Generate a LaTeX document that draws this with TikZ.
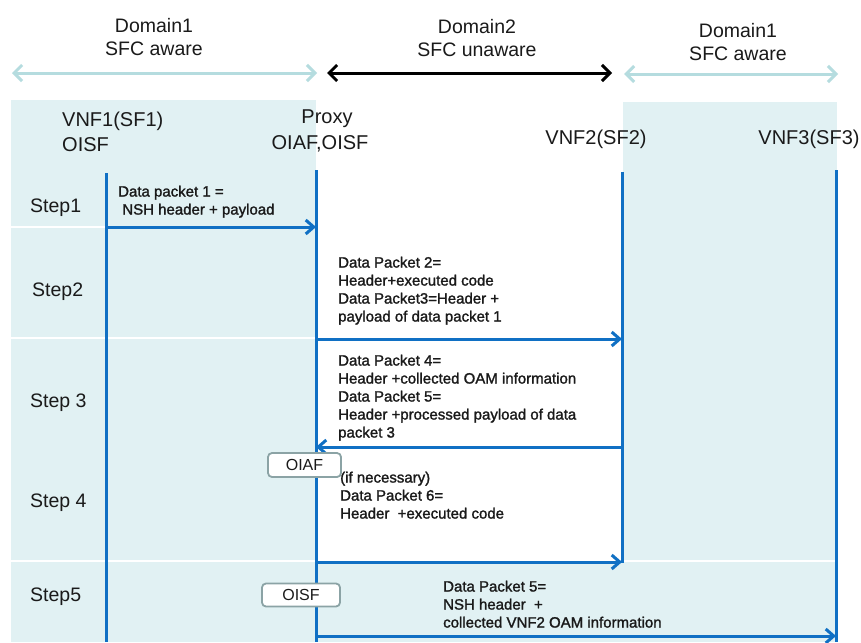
\documentclass[tikz,border=0pt]{standalone}
\usepackage{fontspec}
\setmainfont{Liberation Sans}
\newfontfamily\msgfont[FakeBold=1.5]{Liberation Sans}
\usetikzlibrary{arrows.meta}
\definecolor{panel}{HTML}{E1F1F3}
\definecolor{life}{HTML}{1070C4}
\definecolor{domlight}{HTML}{B5DCDF}
\definecolor{boxedge}{HTML}{8BA3A5}
\definecolor{txt}{HTML}{1A1A1A}
\begin{document}
\begin{tikzpicture}[x=1pt,y=-1pt,
  bigtxt/.style={font=\fontsize{19.5}{23}\selectfont, inner sep=0pt, text=txt},
  msg/.style={font=\msgfont\fontsize{15}{18}\selectfont, inner sep=0pt, align=left, anchor=north west, text=txt},
  lifeline/.style={draw=life, line width=3pt},
  msgarrow/.style={draw=life, line width=3pt, -{Straight Barb[length=8pt,width=14pt]}},
  domarrow/.style={line width=3pt, {Straight Barb[length=8pt,width=16pt]}-{Straight Barb[length=8pt,width=16pt]}},
  tag/.style={draw=boxedge, line width=1.8pt, fill=white, rounded corners=4pt,
    font=\fontsize{16}{19}\selectfont, text=txt, inner sep=0pt}
]
\useasboundingbox (0,0) rectangle (861,642);
\fill[white] (0,0) rectangle (861,642);

% shaded SFC-aware areas
\fill[panel] (11,100) rectangle (316,642);
\fill[panel] (623,102) rectangle (837,642);
\fill[panel] (11,562) rectangle (837,642);
% row separators
\draw[white, line width=1.5pt] (11,227) -- (316,227);
\draw[white, line width=1.5pt] (11,338) -- (316,338);
\draw[white, line width=1.5pt] (11,561) -- (837,561);

% domain ranges
\coordinate (dl1) at (12,73);  \coordinate (dl2) at (317,73);
\coordinate (dm1) at (327,73); \coordinate (dm2) at (612,73);
\coordinate (dr1) at (624,74); \coordinate (dr2) at (838,74);
\draw[domarrow, domlight] (dl1) -- (dl2);
\draw[domarrow, black] (dm1) -- (dm2);
\draw[domarrow, domlight] (dr1) -- (dr2);

\node[bigtxt, align=center] (dom1) at (154,37) {Domain1\\SFC aware};
\node[bigtxt, align=center] (dom2) at (477,38.5) {Domain2\\SFC unaware};
\node[bigtxt, align=center] (dom3) at (738,42) {Domain1\\SFC aware};

% participants
\node[bigtxt, align=left, anchor=west, font=\fontsize{20}{25}\selectfont] (vnf1) at (62,132) {VNF1(SF1)\\OISF};
\node[bigtxt, font=\fontsize{20}{25}\selectfont] (proxy) at (327,119) {Proxy};
\node[bigtxt, font=\fontsize{20}{25}\selectfont] (proxyf) at (320,144) {OIAF,OISF};
\node[bigtxt, font=\fontsize{20}{25}\selectfont] (vnf2) at (596,139) {VNF2(SF2)};
\node[bigtxt, font=\fontsize{20}{25}\selectfont] (vnf3) at (809,139) {VNF3(SF3)};

% lifelines
\coordinate (v1top) at (106,173); \coordinate (v1bot) at (106,642);
\coordinate (pxtop) at (316,170); \coordinate (pxbot) at (316,642);
\coordinate (v2top) at (622,172); \coordinate (v2bot) at (622,563);
\coordinate (v3top) at (836,170); \coordinate (v3bot) at (836,642);
\draw[lifeline] (v1top) -- (v1bot);
\draw[lifeline] (pxtop) -- (pxbot);
\draw[lifeline] (v2top) -- (v2bot);
\draw[lifeline] (v3top) -- (v3bot);

% step labels
\node[bigtxt, anchor=west] (s1) at (30,208) {Step1};
\node[bigtxt, anchor=west] (s2) at (32,292) {Step2};
\node[bigtxt, anchor=west] (s3) at (30,403) {Step 3};
\node[bigtxt, anchor=west] (s4) at (30,503) {Step 4};
\node[bigtxt, anchor=west] (s5) at (30,597) {Step5};

% messages
\coordinate (m1a) at (106,227); \coordinate (m1b) at (316,227);
\coordinate (m2a) at (316,339); \coordinate (m2b) at (622,339);
\coordinate (m3a) at (622,447); \coordinate (m3b) at (316,447);
\coordinate (m4a) at (316,562); \coordinate (m4b) at (622,562);
\coordinate (m5a) at (316,636); \coordinate (m5b) at (836,636);
\draw[msgarrow] (m1a) -- (m1b);
\draw[msgarrow] (m2a) -- (m2b);
\draw[msgarrow] (m3a) -- (m3b);
\draw[msgarrow] (m4a) -- (m4b);
\draw[msgarrow] (m5a) -- (m5b);

\node[msg] (t1) at (118,185.5) {Data packet 1 =\\\ NSH header + payload};
\node[msg] (t2) at (338,256.5) {Data Packet 2=\\Header+executed code\\Data Packet3=Header +\\payload of data packet 1};
\node[msg] (t3) at (338,354.5) {Data Packet 4=\\Header +collected OAM information\\Data Packet 5=\\Header +processed payload of data\\packet 3};
\node[msg] (t4) at (340,471.5) {(if necessary)\\Data Packet 6=\\Header\ \ +executed code};
\node[msg] (t5) at (443,580.5) {Data Packet 5=\\NSH header\ \ +\\collected VNF2 OAM information};

% function tags on the proxy
\node[tag, minimum width=73pt, minimum height=24pt] (oiaf) at (304.5,465) {OIAF};
\node[tag, minimum width=78pt, minimum height=23pt] (oisf) at (301,595) {OISF};
\end{tikzpicture}
\end{document}
